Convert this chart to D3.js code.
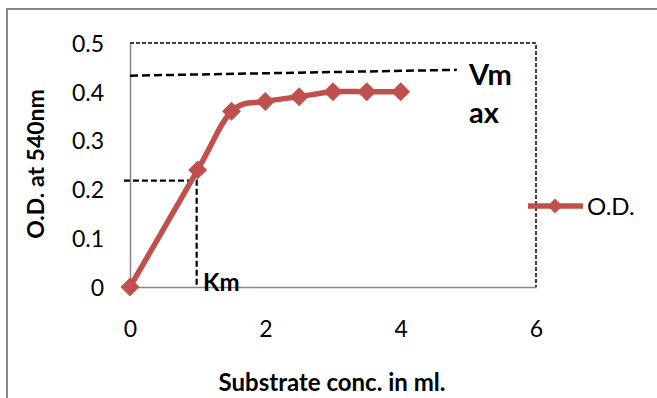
<!DOCTYPE html>
<html>
<head>
<meta charset="utf-8">
<script src="https://cdn.jsdelivr.net/npm/d3@7"></script>
<style>
  html, body { margin: 0; padding: 0; background: #fff; }
  svg { display: block; }
  text { font-family: Lato, "Open Sans", sans-serif; fill: #000; }
</style>
</head>
<body>
<svg id="chart" width="657" height="398"></svg>
<script>
// Substrate concentration (ml) and optical density at 540 nm
const substrate = [0, 1, 1.5, 2, 2.5, 3, 3.5, 4];
const od = [0, 0.24, 0.36, 0.38, 0.39, 0.40, 0.40, 0.40];

const xTicks = [0, 2, 4, 6];
const yTicks = [0, 0.1, 0.2, 0.3, 0.4, 0.5];

// Hand-drawn construction lines for Vmax and Km
const vmaxLine = [[0, 0.433], [4.83, 0.445]];
const kmLine = [[-0.09, 0.218], [0.985, 0.218], [0.985, 0]];

const seriesName = "O.D.";
const xTitle = "Substrate conc. in ml.";
const yTitle = "O.D. at 540nm";

const svg = d3.select("#chart");
const red = "#C0504D";
const grey = "#878787";

const x = d3.scaleLinear().domain([0, 6]).range([130, 536]);
const y = d3.scaleLinear().domain([0, 0.5]).range([287, 43]);

// outer chart frame (runs off the right and bottom edges)
svg.append("rect")
  .attr("x", 7).attr("y", 9)
  .attr("width", 700).attr("height", 450)
  .attr("fill", "none").attr("stroke", grey).attr("stroke-width", 2);

// axes
const xAxis = d3.axisBottom(x).tickValues(xTicks).tickSize(0).tickPadding(0).tickFormat(d3.format("d"));
const gx = svg.append("g").attr("transform", `translate(0,${y(0)})`).call(xAxis);
gx.select(".domain").attr("stroke", grey).attr("stroke-width", 1.5);
gx.selectAll("text").attr("dy", 0).attr("y", 50).style("font-size", "23px");

const yAxis = d3.axisLeft(y).tickValues(yTicks).tickSize(0).tickPadding(0)
  .tickFormat(d => d === 0 ? "0" : d3.format(".1f")(d));
const gy = svg.append("g").attr("transform", `translate(${x(0)},0)`).call(yAxis);
gy.select(".domain").attr("stroke", grey).attr("stroke-width", 1.5);
gy.selectAll("text").attr("x", -26).attr("dy", "0.36em").style("font-size", "23px");

// dotted frame on top and right of the plot area
svg.append("path")
  .attr("d", d3.line()([[x(0), y(0.5)], [x(6), y(0.5)], [x(6), y(0)]]))
  .attr("fill", "none").attr("stroke", "#000").attr("stroke-width", 1.5)
  .attr("stroke-dasharray", "4,2");

// construction lines
const line = d3.line().x(d => x(d[0])).y(d => y(d[1]));
svg.append("path").attr("d", line(vmaxLine))
  .attr("fill", "none").attr("stroke", "#000").attr("stroke-width", 2.5)
  .attr("stroke-dasharray", "8,4");
svg.append("path").attr("d", line(kmLine))
  .attr("fill", "none").attr("stroke", "#000").attr("stroke-width", 2.2)
  .attr("stroke-dasharray", "6,3");

// series line
const pts = substrate.map((s, i) => [s, od[i]]);
svg.append("path")
  .attr("d", d3.line().x(d => x(d[0])).y(d => y(d[1])).curve(d3.curveCardinal.tension(0))(pts))
  .attr("fill", "none").attr("stroke", red).attr("stroke-width", 5.5)
  .attr("stroke-linejoin", "round");

const diamond = d3.symbol().type(d3.symbolSquare).size(180);
svg.append("g").selectAll("path").data(pts).join("path")
  .attr("d", diamond)
  .attr("transform", d => `translate(${x(d[0])},${y(d[1])}) rotate(45)`)
  .attr("fill", red);

// annotation labels
svg.append("text").attr("x", 203).attr("y", 291)
  .style("font-size", "24px").style("font-weight", "bold").text("Km");
svg.append("text").attr("x", 469).attr("y", 85)
  .style("font-size", "29px").style("font-weight", "bold").text("Vm");
svg.append("text").attr("x", 469).attr("y", 123)
  .style("font-size", "29px").style("font-weight", "bold").text("ax");

// axis titles
svg.append("text").attr("x", 332).attr("y", 391).attr("text-anchor", "middle")
  .style("font-size", "24px").style("font-weight", "bold").text(xTitle);
svg.append("text")
  .attr("transform", `translate(44,164) rotate(-90)`)
  .attr("text-anchor", "middle")
  .style("font-size", "23px").style("font-weight", "bold").text(yTitle);

// legend
const lg = svg.append("g").attr("transform", "translate(528,206)");
lg.append("line").attr("x1", 0).attr("x2", 55).attr("y1", 0).attr("y2", 0)
  .attr("stroke", red).attr("stroke-width", 5.5);
lg.append("path").attr("d", d3.symbol().type(d3.symbolSquare).size(110))
  .attr("transform", "translate(27,0) rotate(45)").attr("fill", red);
lg.append("text").attr("x", 59).attr("y", 0).attr("dy", "0.36em")
  .style("font-size", "24px").text(seriesName);
</script>
</body>
</html>
